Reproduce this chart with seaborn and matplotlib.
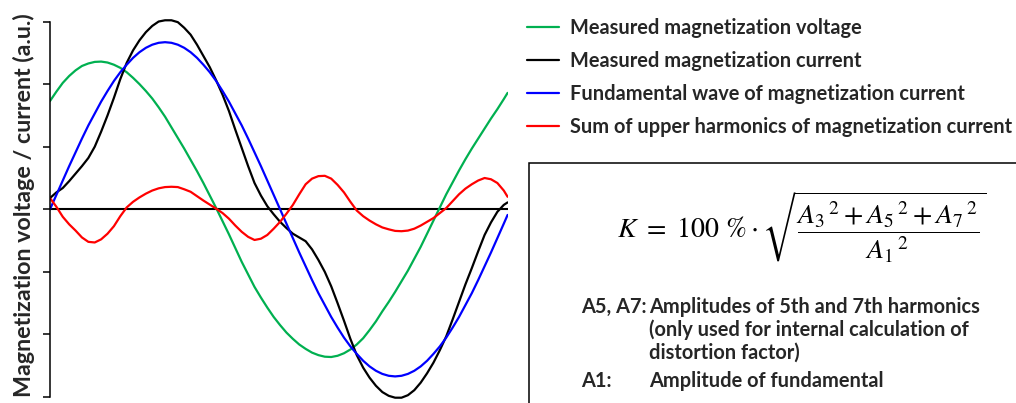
import matplotlib
matplotlib.use("Agg")
import matplotlib.pyplot as plt
from matplotlib import font_manager
from matplotlib.font_manager import FontProperties
from matplotlib.patches import Rectangle
import pandas as pd
import seaborn as sns

# Phase angle over one mains period (degrees)
phase = list(range(0, 356, 5)) + [358]

# Measured magnetization voltage (a.u.)
voltage = [1.73, 1.88, 2.02, 2.13, 2.22, 2.29, 2.33, 2.355, 2.36, 2.345, 2.31,
           2.26, 2.19, 2.10, 2.00, 1.89, 1.77, 1.63, 1.48,
           1.31, 1.14, 0.97, 0.79, 0.61, 0.42, 0.22, 0.02, -0.19, -0.40, -0.62,
           -0.84, -1.04, -1.24, -1.41, -1.57, -1.72, -1.85,
           -1.97, -2.07, -2.16, -2.23, -2.29, -2.33, -2.355, -2.36, -2.34, -2.30,
           -2.24, -2.16, -2.06, -1.93, -1.79, -1.63, -1.48, -1.32,
           -1.15, -0.98, -0.79, -0.60, -0.39, -0.18, 0.03, 0.24, 0.43, 0.62,
           0.80, 0.97, 1.13, 1.29, 1.45, 1.60, 1.76,
           1.86]

# Measured magnetization current (a.u.)
current = [0.18, 0.27, 0.34, 0.45, 0.57, 0.69, 0.82, 1.00, 1.24, 1.50, 1.78,
           2.08, 2.34, 2.54, 2.70, 2.83, 2.93, 3.00, 3.02,
           3.02, 2.99, 2.90, 2.79, 2.63, 2.45, 2.27, 2.06, 1.83, 1.57, 1.27,
           0.98, 0.69, 0.42, 0.22, 0.05, -0.08, -0.20,
           -0.30, -0.39, -0.45, -0.51, -0.64, -0.81, -1.00, -1.23, -1.50, -1.78,
           -2.07, -2.33, -2.53, -2.69, -2.82, -2.92, -2.98, -3.01,
           -3.01, -2.97, -2.89, -2.77, -2.62, -2.45, -2.25, -2.03, -1.76, -1.48,
           -1.20, -0.94, -0.67, -0.41, -0.21, -0.04, 0.07,
           0.11]

# Fundamental wave of the current (a.u.)
fundamental = [0.00, 0.23, 0.46, 0.69, 0.91, 1.13, 1.34, 1.53, 1.72, 1.89, 2.05,
               2.19, 2.31, 2.42, 2.51, 2.58, 2.63, 2.66, 2.67,
               2.66, 2.63, 2.58, 2.51, 2.42, 2.31, 2.19, 2.05, 1.89, 1.72, 1.53,
               1.34, 1.13, 0.91, 0.69, 0.46, 0.23, 0.00,
               -0.23, -0.46, -0.69, -0.91, -1.13, -1.34, -1.53, -1.72, -1.89,
               -2.05, -2.19, -2.31, -2.42, -2.51, -2.58, -2.63, -2.66, -2.67,
               -2.66, -2.63, -2.58, -2.51, -2.42, -2.31, -2.19, -2.05, -1.89,
               -1.72, -1.53, -1.34, -1.13, -0.91, -0.69, -0.46, -0.23,
               -0.09]

# Sum of upper harmonics of the current (a.u.)
harmonics = [0.18, 0.04, -0.12, -0.24, -0.34, -0.45, -0.52, -0.53, -0.48, -0.39,
             -0.27, -0.11, 0.03, 0.12, 0.19, 0.25, 0.30, 0.335, 0.355,
             0.36, 0.355, 0.32, 0.28, 0.21, 0.14, 0.075, 0.01, -0.06, -0.15,
             -0.26, -0.36, -0.44, -0.49, -0.47, -0.41, -0.31, -0.20,
             -0.07, 0.07, 0.24, 0.40, 0.49, 0.53, 0.535, 0.49, 0.39, 0.27, 0.12,
             -0.02, -0.11, -0.18, -0.24, -0.29, -0.32, -0.345,
             -0.35, -0.34, -0.31, -0.26, -0.20, -0.14, -0.06, 0.02, 0.13, 0.24,
             0.33, 0.40, 0.46, 0.50, 0.48, 0.42, 0.30,
             0.20]

series_names = ["Measured magnetization voltage",
                "Measured magnetization current",
                "Fundamental wave of magnetization current",
                "Sum of upper harmonics of magnetization current"]
series_colors = ["#00B050", "#000000", "#0000FF", "#FF0000"]
y_ticks = [-3, -2, -1, 0, 1, 2, 3]

y_label = "Magnetization voltage / current (a.u.)"
formula = (r"$K\ =\ 100\ \%\cdot\sqrt{\dfrac{{A_3}^{\,2}+{A_5}^{\,2}"
           r"+{A_7}^{\,2}}{{A_1}^{\,2}}}$")
note_lines = [("A5, A7:", "Amplitudes of 5th and 7th harmonics"),
              ("", "(only used for internal calculation of"),
              ("", "distortion factor)"),
              ("A1:", "Amplitude of fundamental")]

sns.set_theme(style="white")
available = {f.name for f in font_manager.fontManager.ttflist}
main_font = "Lato" if "Lato" in available else "DejaVu Sans"
plt.rcParams["font.family"] = [main_font, "DejaVu Sans"]

df = pd.DataFrame({
    "phase": phase * 4,
    "value": voltage + current + fundamental + harmonics,
    "series": sum([[n] * len(phase) for n in series_names], []),
})

W, H = 1016, 403
fig = plt.figure(figsize=(W / 100, H / 100), dpi=100)
fig.patch.set_facecolor("white")
renderer = fig.canvas.get_renderer()


def text_width(s, size, weight="bold", ismath=False):
    if ismath:
        fp = FontProperties(size=size, math_fontfamily="stix")
    else:
        fp = FontProperties(family=[main_font, "DejaVu Sans"], size=size,
                            weight=weight)
    return renderer.get_text_width_height_descent(s, fp, ismath=ismath)[0]


# --- plot area --------------------------------------------------------------
ax_left, ax_right = 50, 507.6
ax_top, ax_bottom = 18.4, 400.2
ax = fig.add_axes([ax_left / W, 1 - ax_bottom / H,
                   (ax_right - ax_left) / W, (ax_bottom - ax_top) / H])
ax.set_facecolor("none")

ax.axhline(0, color="black", lw=1.5, zorder=1)
sns.lineplot(data=df, x="phase", y="value", hue="series",
             hue_order=series_names, palette=series_colors,
             linewidth=1.6, sort=False, estimator=None, ax=ax, zorder=2)

ax.set_xlim(0, 358)
ax.set_ylim(-3.05, 3.05)
ax.set_xticks([])
ax.set_yticks(y_ticks)
ax.set_yticklabels([])
ax.set_xlabel("")
ax.set_ylabel("")
for side in ["top", "right", "bottom"]:
    ax.spines[side].set_visible(False)
ax.spines["left"].set_visible(True)
ax.spines["left"].set_color("black")
ax.spines["left"].set_linewidth(1.1)
ax.spines["left"].set_bounds(-3, 3)
ax.tick_params(axis="y", left=True, direction="out", length=5, width=1.1,
               color="black")

# vertical axis title
ylab_size = 10 * 385 / text_width(y_label, 10)
fig.text(24 / W, 1 - 205.5 / H, y_label, rotation=90, ha="center",
         va="center", fontsize=ylab_size, fontweight="bold")

# --- legend -----------------------------------------------------------------
text_size = 10 * 292 / text_width(series_names[0], 10)
text_px = text_size * 100 / 72
leg_prop = {"weight": "bold", "size": text_size}
row_pitch = 32.7
first_baseline = 34.5


def place_legend(spacing, anchor_y):
    sns.move_legend(ax, "upper left", bbox_to_anchor=(527 / W, anchor_y),
                    bbox_transform=fig.transFigure, frameon=False, title=None,
                    prop=leg_prop, handlelength=32 / text_px,
                    handletextpad=11 / text_px, labelspacing=spacing,
                    borderpad=0, borderaxespad=0)
    fig.canvas.draw()
    leg = ax.get_legend()
    bases = [t.get_transform().transform(t.get_position())[1]
             for t in leg.get_texts()]
    return bases


spacing, anchor_y = 0.7, 1 - 16 / H
for _ in range(3):
    bases = place_legend(spacing, anchor_y)
    pitch = (bases[0] - bases[-1]) / (len(bases) - 1)
    spacing += (row_pitch - pitch) / text_px
    anchor_y += ((H - first_baseline) - bases[0]) / H
place_legend(spacing, anchor_y)

# --- formula box ------------------------------------------------------------
fig.add_artist(Rectangle((529 / W, -0.1), 1.0, (1 - 163.3 / H) + 0.1,
                         transform=fig.transFigure, fill=False,
                         edgecolor="black", lw=1.1, clip_on=False))

formula_size = 10 * (988 - 616.7) / text_width(formula, 10, ismath=True)
fig.text(616.7 / W, 1 - 238.3 / H, formula, ha="left", va="baseline",
         fontsize=formula_size, math_fontfamily="stix", color="black")

baselines = [312.7, 335.5, 358.3, 387.0]
for (key, desc), yb in zip(note_lines, baselines):
    if key:
        fig.text(581 / W, 1 - yb / H, key, ha="left", va="baseline",
                 fontsize=text_size, fontweight="bold")
    fig.text(649 / W, 1 - yb / H, desc, ha="left", va="baseline",
             fontsize=text_size, fontweight="bold")

fig.savefig("out.png", dpi=100, facecolor="white")
